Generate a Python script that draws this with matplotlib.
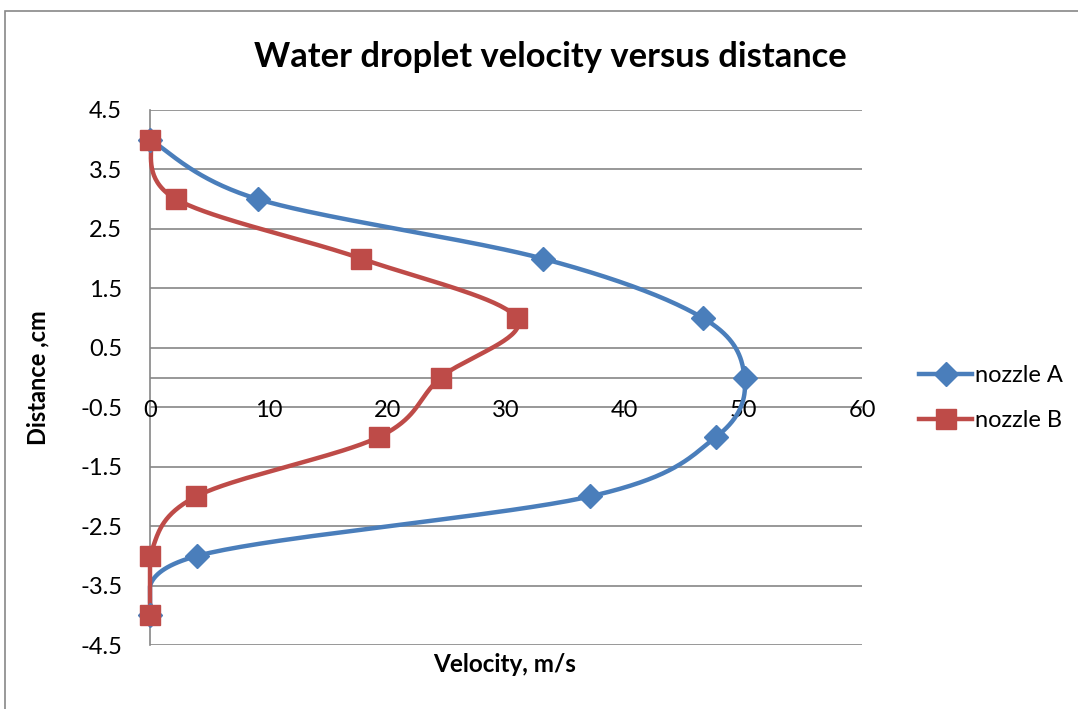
import numpy as np
import matplotlib
matplotlib.use("Agg")
import matplotlib.pyplot as plt
from matplotlib.lines import Line2D
from matplotlib.patches import Rectangle

distance = [4, 3, 2, 1, 0, -1, -2, -3, -4]
vel_a = [0, 9.1, 33.1, 46.6, 50.1, 47.7, 37.1, 4.0, 0]
vel_b = [0, 2.2, 17.8, 30.9, 24.5, 19.3, 3.9, 0, 0]
series_names = ["nozzle A", "nozzle B"]
xticks = [0, 10, 20, 30, 40, 50, 60]
yticks = [4.5, 3.5, 2.5, 1.5, 0.5, -0.5, -1.5, -2.5, -3.5, -4.5]

BLUE = "#4A7EBB"
RED = "#BE4B48"
FONT = ["Lato", "DejaVu Sans"]
plt.rcParams['font.family'] = FONT


def smooth(xs, ys, n=40):
    """Excel-like smoothed line: Bezier with Catmull-Rom control points."""
    p = np.column_stack([xs, ys]).astype(float)
    out = []
    m = len(p)
    for i in range(m - 1):
        p0 = p[i - 1] if i > 0 else p[i]
        p1 = p[i]
        p2 = p[i + 1]
        p3 = p[i + 2] if i + 2 < m else p[i + 1]
        c1 = p1 + (p2 - p0) / 6.0
        c2 = p2 - (p3 - p1) / 6.0
        t = np.linspace(0, 1, n)[:, None]
        seg = ((1 - t) ** 3) * p1 + 3 * ((1 - t) ** 2) * t * c1 + 3 * (1 - t) * t ** 2 * c2 + t ** 3 * p2
        out.append(seg if i == 0 else seg[1:])
    out = np.vstack(out)
    return np.maximum(out[:, 0], 0), out[:, 1]


fig = plt.figure(figsize=(10.78, 7.09), dpi=100)
fig.patches.append(Rectangle((5 / 1078, -0.1), 1.2, 1.1 - 11 / 709, transform=fig.transFigure,
                             fill=False, edgecolor="#888888", linewidth=1.2))
ax = fig.add_axes([150 / 1078, 1 - 645 / 709, (862 - 150) / 1078, (645 - 110) / 709])

ax.set_xlim(0, 60)
ax.set_ylim(-4.5, 4.5)
for s in ["top", "right", "bottom"]:
    ax.spines[s].set_visible(False)
ax.spines["left"].set_color("#868686")
ax.spines["left"].set_linewidth(1.2)
ax.set_yticks(yticks)
ax.set_yticklabels([str(v) for v in yticks])
ax.tick_params(axis="y", length=0, labelsize=17, pad=20)
for v in yticks:
    ax.axhline(v, color="#868686", lw=1.2, zorder=0.5)
ax.axhline(0, color="#868686", lw=1.2, zorder=0.5)
ax.set_xticks([])
for v in xticks:
    ax.text(v, -0.55, str(v), ha="center", va="center", fontsize=17)

for vel, col, mk, ms, name in [(vel_a, BLUE, "D", 12.5, series_names[0]),
                               (vel_b, RED, "s", 14, series_names[1])]:
    sx, sy = smooth(vel, distance)
    ax.plot(sx, sy, color=col, lw=3.2, solid_capstyle="round", zorder=3, clip_on=False)
    ax.plot(vel, distance, ls="none", marker=mk, ms=ms, color=col, zorder=4, clip_on=False)

fig.text(550 / 1078, 1 - 57 / 709, "Water droplet velocity versus distance", ha="center", va="center",
         fontsize=24.8, fontweight="bold")
fig.text(505 / 1078, 1 - 665 / 709, "Velocity, m/s", ha="center", va="center", fontsize=17.5, fontweight="bold")
fig.text(38 / 1078, 1 - 378 / 709, "Distance ,cm", ha="center", va="center", rotation=90,
         fontsize=17, fontweight="bold")

handles = [Line2D([], [], color=BLUE, lw=3.2, marker="D", ms=12.5),
           Line2D([], [], color=RED, lw=3.2, marker="s", ms=14)]
fig.legend(handles, series_names, loc="center left", bbox_to_anchor=(898 / 1078, 1 - 398 / 709),
           frameon=False, fontsize=17, handlelength=2.25, handletextpad=0.1, labelspacing=1.0)

fig.savefig("out.png", dpi=100)
